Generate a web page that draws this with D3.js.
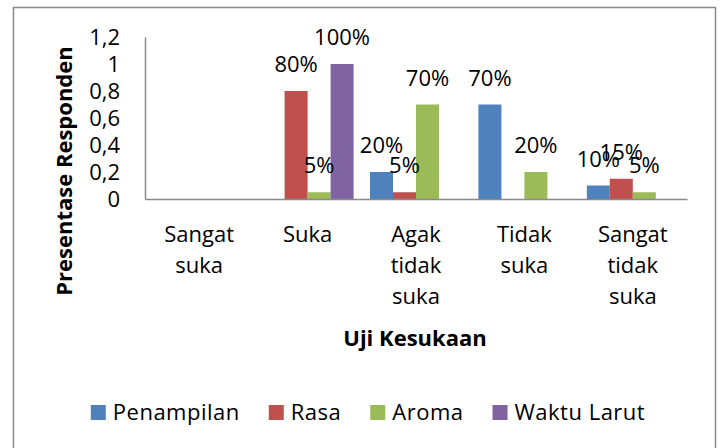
<!DOCTYPE html>
<html>
<head>
<meta charset="utf-8">
<script src="https://cdn.jsdelivr.net/npm/d3@7"></script>
<style>
    body { margin: 0; background: #fff; }
    text { font-family: "Open Sans", sans-serif; fill: #000; }
</style>
</head>
<body>
<div id="chart"></div>
<script>
var categories = ["Sangat suka", "Suka", "Agak tidak suka", "Tidak suka", "Sangat tidak suka"];
var series = ["Penampilan", "Rasa", "Aroma", "Waktu Larut"];
var colors = ["#4F81BD", "#C0504D", "#9BBB59", "#8064A2"];
// one array per series, in category order (null = no bar)
var penampilan = [null, null, 0.2, 0.7, 0.1];
var rasa = [null, 0.8, 0.05, null, 0.15];
var aroma = [null, 0.05, 0.7, 0.2, 0.05];
var waktuLarut = [null, 1.0, null, null, null];
var yTicks = [0, 0.2, 0.4, 0.6, 0.8, 1, 1.2];

var values = [penampilan, rasa, aroma, waktuLarut];
var fs = "22px";

var width = 720, height = 448;
var svg = d3.select("#chart").append("svg")
    .attr("width", width)
    .attr("height", height);

// outer frame
svg.append("rect")
    .attr("x", 13.5).attr("y", 7.5)
    .attr("width", 702).attr("height", 470)
    .attr("fill", "none")
    .attr("stroke", "#8a8a8a")
    .attr("stroke-width", 1.5);

var x = d3.scaleBand()
    .domain(categories)
    .range([145, 687]);

var xs = d3.scaleBand()
    .domain(series)
    .range([0, x.bandwidth()])
    .paddingOuter(0.357);

var y = d3.scaleLinear()
    .domain([0, 1.2])
    .range([199, 37]);

// flatten into bar records
var bars = [];
categories.forEach(function (c, i) {
    series.forEach(function (s, j) {
        if (values[j][i] != null) {
            bars.push({ cat: c, ser: s, idx: j, value: values[j][i] });
        }
    });
});

svg.selectAll(".bar")
    .data(bars)
    .enter()
    .append("rect")
    .attr("class", "bar")
    .attr("x", function (d) { return x(d.cat) + xs(d.ser); })
    .attr("y", function (d) { return y(d.value); })
    .attr("width", xs.bandwidth())
    .attr("height", function (d) { return y(0) - y(d.value); })
    .attr("fill", function (d) { return colors[d.idx]; });

// data labels
svg.selectAll(".lbl")
    .data(bars)
    .enter()
    .append("text")
    .attr("class", "lbl")
    .attr("x", function (d) { return x(d.cat) + xs(d.ser) + xs.bandwidth() / 2; })
    .attr("y", function (d) { return y(d.value) - 19; })
    .attr("text-anchor", "middle")
    .style("font-size", fs)
    .text(function (d) { return Math.round(d.value * 100) + "%"; });

// y axis
var yAxis = svg.append("g")
    .attr("transform", "translate(145,0)")
    .call(d3.axisLeft(y)
        .tickValues(yTicks)
        .tickSize(0)
        .tickPadding(25)
        .tickFormat(function (d) { return String(d).replace(".", ","); }));
yAxis.select(".domain").attr("stroke", "#8a8a8a").attr("stroke-width", 1.5);
yAxis.selectAll("text")
    .style("font-size", fs)
    .style("font-family", "Open Sans, sans-serif");

// x axis
var xAxis = svg.append("g")
    .attr("transform", "translate(0,199)")
    .call(d3.axisBottom(x).tickSize(0).tickFormat(""));
xAxis.select(".domain").attr("stroke", "#8a8a8a").attr("stroke-width", 1.5);

// category labels, one word per line
var catLabels = svg.selectAll(".cat")
    .data(categories)
    .enter()
    .append("text")
    .attr("class", "cat")
    .attr("text-anchor", "middle")
    .style("font-size", fs);
catLabels.each(function (d) {
    var t = d3.select(this);
    d.split(" ").forEach(function (w, k) {
        t.append("tspan")
            .attr("x", x(d) + x.bandwidth() / 2)
            .attr("y", 242 + k * 31)
            .text(w);
    });
});

// axis titles
svg.append("text")
    .attr("x", 415).attr("y", 346)
    .attr("text-anchor", "middle")
    .style("font-size", fs)
    .style("font-weight", "bold")
    .text("Uji Kesukaan");

svg.append("text")
    .attr("transform", "translate(72,171) rotate(-90)")
    .attr("text-anchor", "middle")
    .style("font-size", fs)
    .style("font-weight", "bold")
    .text("Presentase Responden");

// legend
var legend = svg.append("g");
var lx = 0;
series.forEach(function (s, i) {
    var g = legend.append("g").attr("transform", "translate(" + lx + ",0)");
    g.append("rect")
        .attr("x", 0).attr("y", 405)
        .attr("width", 15).attr("height", 15)
        .attr("fill", colors[i]);
    var t = g.append("text")
        .attr("x", 22).attr("y", 420)
        .style("font-size", fs)
        .style("letter-spacing", "0.5px")
        .text(s);
    lx += 22 + t.node().getComputedTextLength() + 29;
});
var legendW = lx - 29;
legend.attr("transform", "translate(" + (368 - legendW / 2) + ",0)");
</script>
</body>
</html>
